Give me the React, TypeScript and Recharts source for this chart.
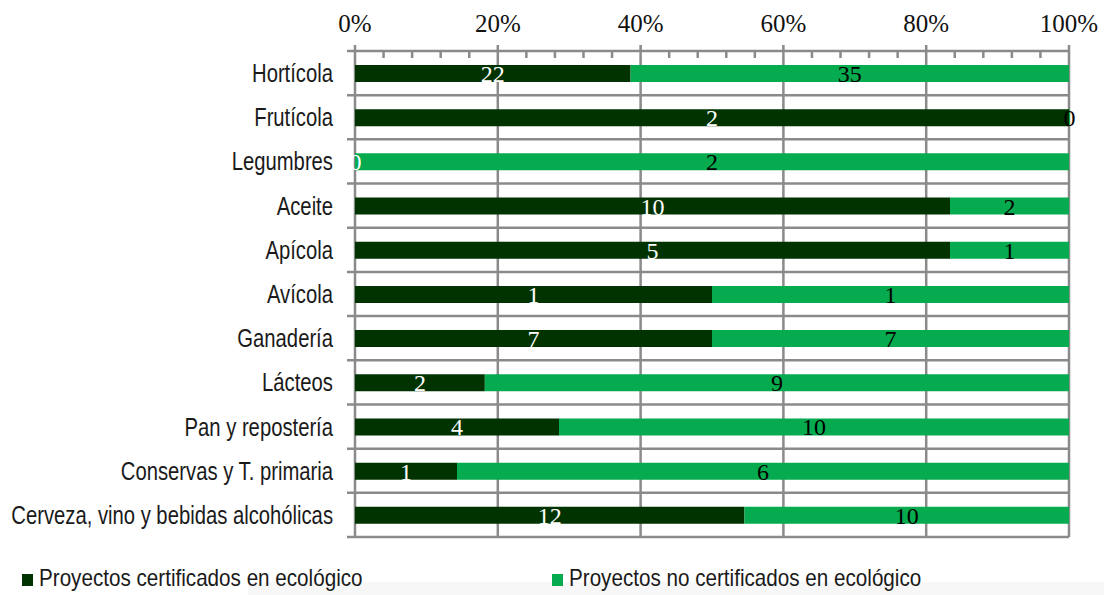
import { BarChart, Bar, XAxis, YAxis, CartesianGrid, Legend, LabelList } from "recharts";

const categories = [
  "Hortícola",
  "Frutícola",
  "Legumbres",
  "Aceite",
  "Apícola",
  "Avícola",
  "Ganadería",
  "Lácteos",
  "Pan y repostería",
  "Conservas y T. primaria",
  "Cerveza, vino y bebidas alcohólicas",
];
const certified = [22, 2, 0, 10, 5, 1, 7, 2, 4, 1, 12];
const notCertified = [35, 0, 2, 2, 1, 1, 7, 9, 10, 6, 10];

const majorTicks = [0, 20, 40, 60, 80, 100];
const allTicks = [0, 4, 8, 12, 16, 20, 24, 28, 32, 36, 40, 44, 48, 52, 56, 60, 64, 68, 72, 76, 80, 84, 88, 92, 96, 100];

const seriesNames = ["Proyectos certificados en ecológico", "Proyectos no certificados en ecológico"];

const DARK = "#013301";
const GREEN = "#05ab4e";
const GRID = "#8a8a8a";
const SERIF = "'Liberation Serif', 'Times New Roman', serif";
const SANS = "'Liberation Sans', Arial, sans-serif";

const data = categories.map((name, i) => {
  const total = certified[i] + notCertified[i];
  return {
    name,
    cert: (certified[i] / total) * 100,
    noCert: (notCertified[i] / total) * 100,
    certN: certified[i],
    noCertN: notCertified[i],
  };
});

// major ticks get a label, the others a short mark under the axis line
const TopTick = (props: any) => {
  const { x, y, payload } = props;
  if (majorTicks.includes(payload.value)) {
    return (
      <text x={x} y={y} textAnchor="middle" fontFamily={SERIF} fontSize={25} fill="#111">
        {payload.value}%
      </text>
    );
  }
  return <line x1={x} x2={x} y1={y + 19} y2={y + 26} stroke={GRID} strokeWidth={2.5} />;
};

// no condensed font available, so squeeze the sans horizontally
const CategoryTick = (props: any) => {
  const { x, y, payload } = props;
  return (
    <g transform={`translate(${x},${y})`}>
      <text transform="scale(0.81,1)" textAnchor="end" dy="0.36em" fontFamily={SANS} fontSize={25} fill="#1a1a1a">
        {payload.value}
      </text>
    </g>
  );
};

const squeezed = { display: "inline-block", transform: "scaleX(0.86)", transformOrigin: "left center", whiteSpace: "nowrap" as const };

const LegendBox = () => (
  <div style={{ position: "relative", height: 30, fontFamily: SANS, fontSize: 24, color: "#1a1a1a" }}>
    <span style={{ position: "absolute", left: 22, top: 10, width: 11, height: 12, background: DARK }} />
    <span style={{ position: "absolute", left: 39, top: 0, ...squeezed }}>{seriesNames[0]}</span>
    <span style={{ position: "absolute", left: 552, top: 10, width: 11, height: 12, background: GREEN }} />
    <span style={{ position: "absolute", left: 569, top: 0, ...squeezed }}>{seriesNames[1]}</span>
  </div>
);

export default function App() {
  return (
    <div style={{ position: "absolute", left: 0, top: 0, width: 1104, height: 595, background: "#fff" }}>
      <div style={{ position: "absolute", left: 248, top: 582, width: 856, height: 13, background: "#f7f7f7" }} />
      <BarChart
        width={1104}
        height={595}
        data={data}
        layout="vertical"
        margin={{ top: 11, right: 35, bottom: 0, left: 0 }}
      >
        <CartesianGrid
          vertical={false}
          stroke={GRID}
          strokeWidth={2.5}
          x={347}
          width={722}
          horizontalCoordinatesGenerator={({ offset }: any) =>
            Array.from({ length: categories.length + 1 }, (_, i) => offset.top + (i * offset.height) / categories.length)
          }
        />
        <CartesianGrid
          horizontal={false}
          stroke={GRID}
          strokeWidth={2.5}
          y={45}
          height={492}
          verticalCoordinatesGenerator={({ offset }: any) =>
            majorTicks.map((v) => offset.left + (v / 100) * offset.width)
          }
        />
        <XAxis
          type="number"
          orientation="top"
          domain={[0, 100]}
          ticks={allTicks}
          interval={0}
          height={40}
          tickSize={0}
          tickMargin={19}
          axisLine={false}
          tickLine={false}
          tick={<TopTick />}
        />
        <YAxis
          type="category"
          dataKey="name"
          width={355}
          axisLine={false}
          tickLine={false}
          tickSize={0}
          tickMargin={22}
          interval={0}
          tick={<CategoryTick />}
        />
        <Legend verticalAlign="bottom" height={58} wrapperStyle={{ top: 564, left: 0, width: 1104 }} content={<LegendBox />} />
        <Bar dataKey="cert" name={seriesNames[0]} stackId="a" fill={DARK} barSize={17} minPointSize={1} isAnimationActive={false}>
          <LabelList dataKey="certN" position="center" fill="#fff" fontFamily={SERIF} fontSize={24} />
        </Bar>
        <Bar dataKey="noCert" name={seriesNames[1]} stackId="a" fill={GREEN} barSize={17} minPointSize={1} isAnimationActive={false}>
          <LabelList dataKey="noCertN" position="center" fill="#000" fontFamily={SERIF} fontSize={24} />
        </Bar>
      </BarChart>
    </div>
  );
}
